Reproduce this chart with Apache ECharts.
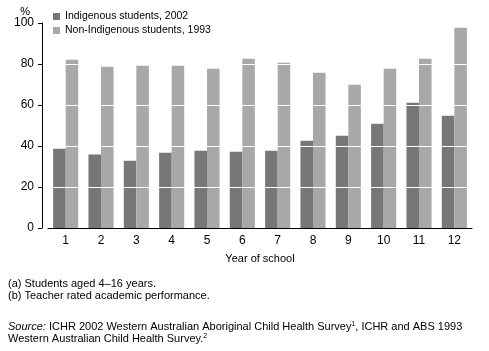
<!DOCTYPE html>
<html>
<head>
<meta charset="utf-8">
<script src="https://cdn.jsdelivr.net/npm/echarts@6/dist/echarts.min.js"></script>
<style>
  html, body { margin: 0; padding: 0; background: #fff; }
  #chart { width: 489px; height: 351px; }
</style>
</head>
<body>
<div id="chart"></div>
<script>
// data
var years = ['1', '2', '3', '4', '5', '6', '7', '8', '9', '10', '11', '12'];
var indigenous2002 = [38.7, 35.8, 32.8, 36.7, 37.7, 37.2, 37.7, 42.6, 45.0, 50.9, 61.1, 54.8];
var nonIndigenous1993 = [82.1, 78.7, 79.2, 79.2, 77.7, 82.6, 80.6, 75.7, 69.9, 77.7, 82.6, 97.7];
var seriesNames = ['Indigenous students, 2002', 'Non-Indigenous students, 1993'];

var font = 'Liberation Sans, Arial, sans-serif';

var myChart = echarts.init(document.getElementById('chart'), null, {renderer: 'canvas'});
myChart.setOption({
    animation: false,
    color: ['#777777', '#a8a8a8'],
    textStyle: {fontFamily: font, color: '#000'},
    grid: {left: 48, right: 17, top: 23, bottom: 123},
    legend: {
        orient: 'vertical',
        left: 53,
        top: 11,
        padding: 0,
        icon: 'rect',
        itemWidth: 7,
        itemHeight: 7,
        itemGap: 3,
        textStyle: {fontSize: 10.5, color: '#000', fontFamily: font},
        data: seriesNames
    },
    xAxis: {
        type: 'category',
        data: years,
        z: 6,
        name: 'Year of school',
        nameLocation: 'middle',
        nameGap: 25,
        nameTextStyle: {fontSize: 11, color: '#000'},
        axisLine: {lineStyle: {color: '#000', width: 1}},
        axisTick: {alignWithLabel: true, length: 4, lineStyle: {color: '#000'}},
        axisLabel: {fontSize: 12, color: '#000', margin: 7}
    },
    yAxis: {
        type: 'value',
        min: 0,
        max: 100,
        interval: 20,
        offset: 6,
        z: 5,
        name: '%',
        nameLocation: 'end',
        nameGap: 6,
        nameTextStyle: {fontSize: 11, color: '#000', align: 'right', padding: [0, 12, 0, 0]},
        axisLine: {show: true, lineStyle: {color: '#000', width: 1}},
        axisTick: {show: true, length: 4, lineStyle: {color: '#000'}},
        axisLabel: {fontSize: 12, color: '#000', margin: 8},
        splitLine: {show: true, lineStyle: {color: '#fff', width: 1}}
    },
    series: [
        {
            name: seriesNames[0],
            type: 'bar',
            data: indigenous2002,
            barGap: '0%',
            barCategoryGap: '29%'
        },
        {
            name: seriesNames[1],
            type: 'bar',
            data: nonIndigenous1993,
            barGap: '0%',
            barCategoryGap: '29%'
        }
    ],
    graphic: [
        {type: 'text', left: 8, top: 278, style: {text: '(a) Students aged 4\u201316 years.', font: '11px ' + font, fill: '#000'}},
        {type: 'text', left: 8, top: 290, style: {text: '(b) Teacher rated academic performance.', font: '11px ' + font, fill: '#000'}},
        {
            type: 'text', left: 8, top: 321,
            style: {
                text: '{i|Source:} ICHR 2002 Western Australian Aboriginal Child Health Survey{s|1}, ICHR and ABS 1993\nWestern Australian Child Health Survey.{s|2}',
                font: '11px ' + font,
                fill: '#000',
                lineHeight: 12,
                rich: {
                    i: {fontStyle: 'italic', fontSize: 11, fontFamily: font, fill: '#000'},
                    s: {fontSize: 7, fontFamily: font, verticalAlign: 'top', fill: '#000'}
                }
            }
        }
    ]
});
</script>
</body>
</html>
